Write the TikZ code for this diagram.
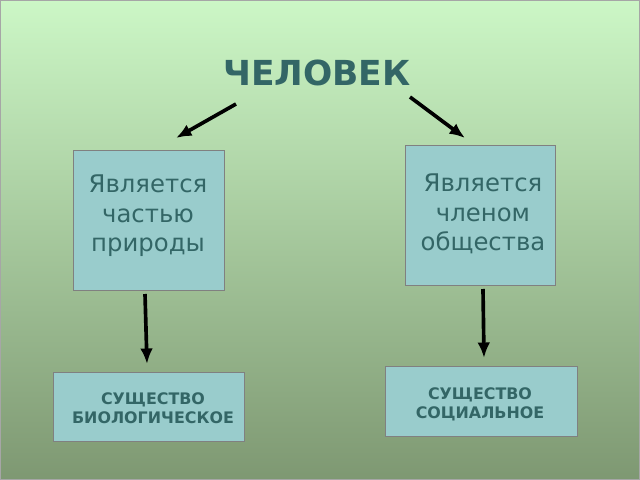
\documentclass[tikz,border=0pt]{standalone}
\usepackage{fontspec}
\setmainfont{DejaVu Sans}
\usetikzlibrary{arrows.meta}
\definecolor{bgtop}{HTML}{CCF7C6}
\definecolor{bgbot}{HTML}{7E9872}
\definecolor{boxfill}{HTML}{99CCCC}
\definecolor{ink}{HTML}{336666}

\begin{document}
\begin{tikzpicture}[
    x=0.025cm, y=-0.025cm,
    box/.style={draw=gray, fill=boxfill, thin},
    label/.style={text=ink, align=center, font=\fontsize{17.3}{21}\selectfont},
    kind/.style={text=ink, align=center, font=\bfseries\fontsize{11.3}{13.5}\selectfont},
    link/.style={-{Latex[length=11pt,width=9pt]}, line width=2.6pt},
]
% background
\shade[top color=bgtop, bottom color=bgbot] (0,0) rectangle (640,480);
\draw[gray!70] (0.5,0.5) rectangle (639.5,479.5);
\useasboundingbox (0,0) rectangle (640,480);
% title
\node[text=ink, font=\bfseries\fontsize{24.5}{28}\selectfont] (man) at (317,73) {ЧЕЛОВЕК};
% boxes
\draw[box] (73,150) rectangle (224,290);
\draw[box] (405,145) rectangle (555,285);
\draw[box] (53,372) rectangle (244,441);
\draw[box] (385,366) rectangle (577,436);
\node[label] (nature) at (148,216) {Является\\ частью\\природы};
\node[label] (society) at (483,214) {Является\\ членом\\общества};
\node[kind] (bio) at (153,408) {СУЩЕСТВО\\БИОЛОГИЧЕСКОЕ};
\node[kind] (soc) at (480,404) {СУЩЕСТВО\\СОЦИАЛЬНОЕ};
% arrows
\coordinate (a1) at (236,104); \coordinate (b1) at (176,138);
\coordinate (a2) at (410,97);  \coordinate (b2) at (465,138);
\coordinate (a3) at (145,294); \coordinate (b3) at (147,364);
\coordinate (a4) at (483,289); \coordinate (b4) at (484,358);
\draw[link] (a1) -- (b1);
\draw[link] (a2) -- (b2);
\draw[link] (a3) -- (b3);
\draw[link] (a4) -- (b4);
\end{tikzpicture}
\end{document}
